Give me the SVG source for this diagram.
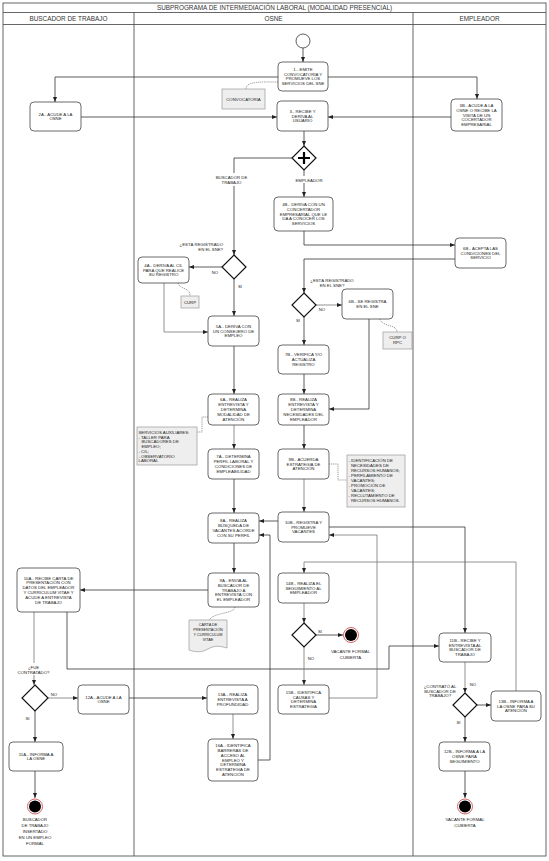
<svg xmlns="http://www.w3.org/2000/svg" width="549" height="861" viewBox="0 0 549 861">
<defs>
<marker id="ar" markerUnits="userSpaceOnUse" markerWidth="5" markerHeight="4" refX="5" refY="2" orient="auto">
<path d="M0,0 L5,2 L0,4 z" fill="#222"/>
</marker>
<style>
text{font-family:"Liberation Sans",Arial,sans-serif;font-size:4.3px;fill:#222;text-anchor:middle}
.hd{font-size:6.4px;fill:#333}
.nd rect{fill:#fff;stroke:#444;stroke-width:0.8}
.doc rect,.doc path{fill:#eeeeee;stroke:#999;stroke-width:0.7}
.gw polygon{fill:#fff;stroke:#111;stroke-width:1.2}
.c path{fill:none;stroke:#333;stroke-width:0.8;marker-end:url(#ar)}
.c path.l{stroke:#777}
.as path{fill:none;stroke:#555;stroke-width:0.6;stroke-dasharray:1.2,0.9}
.lb{fill:#fff}
.lt{text-anchor:start}
.fr{fill:none;stroke:#555;stroke-width:0.9}
</style>
</defs>
<rect width="549" height="861" fill="#fff"/>
<g id="frame">
<rect class="fr" x="3" y="3" width="543" height="853"/>
<line class="fr" x1="3" y1="12.5" x2="546" y2="12.5"/>
<line class="fr" x1="3" y1="24.5" x2="546" y2="24.5"/>
<line class="fr" x1="134" y1="12.5" x2="134" y2="856" stroke="#222"/>
<line class="fr" x1="413" y1="12.5" x2="413" y2="856" stroke="#222"/>
<text class="hd" x="274.5" y="10.2">SUBPROGRAMA DE INTERMEDIACIÓN LABORAL (MODALIDAD PRESENCIAL)</text>
<text class="hd" x="68.5" y="21">BUSCADOR DE TRABAJO</text>
<text class="hd" x="273.5" y="21">OSNE</text>
<text class="hd" x="479.5" y="21">EMPLEADOR</text>
</g>
<g class="c" id="connectors">
<path d="M303,48 V62"/>
<path d="M278,77 H55 V102"/>
<path d="M328,77 H477 V99"/>
<path d="M81,117 H277"/>
<path d="M451,117 H328"/>
<path d="M304,131 V146"/>
<path d="M292,158 H234 V255"/>
<path d="M304,170 V197"/>
<path d="M304,231 V245 H455"/>
<path d="M455,259 H304 V293"/>
<path d="M222,267 H189"/>
<path d="M234,279 V316"/>
<path class="l" d="M164,283 V332 H208"/>
<path class="l" d="M316,305 H342"/>
<path d="M304,317 V345"/>
<path d="M369,319 V409 H329"/>
<path d="M304,374 V394"/>
<path d="M234,346 V394"/>
<path class="l" d="M234,425 V449"/>
<path d="M234,479 V513"/>
<path d="M304,425 V449"/>
<path class="l" d="M304,479 V512"/>
<path d="M278,521 H259"/>
<path d="M329,527 H465 V633"/>
<path d="M234,543 V573"/>
<path d="M208,590 H80"/>
<path class="l" d="M34,612 V685"/>
<path d="M67,612 V669 H389 V646 H439"/>
<path class="l" d="M48,698 H78"/>
<path d="M35,711 V742"/>
<path d="M35,771 V798"/>
<path d="M129,698 H207"/>
<path class="l" d="M233,714 V739"/>
<path d="M258,760 H270 V535 H259"/>
<path class="l" d="M516,691 V562 H304 V573"/>
<path class="l" d="M304,603 V623"/>
<path d="M316,635 H343"/>
<path class="l" d="M304,647 V685"/>
<path class="l" d="M329,698 H377 V535 H329"/>
<path class="l" d="M465,662 V693"/>
<path d="M477,705 H491"/>
<path d="M465,717 V742"/>
<path d="M465,771 V798"/>
</g>
<g class="as" id="associations">
<path d="M278,82 C262,82 246,81 246,89"/>
<path d="M178,283 C180,290 190,287 190,296"/>
<path d="M380,319 C382,327 397,324 397,332"/>
<path d="M208,417 H202 V432 H197"/>
<path d="M329,464 H338 V480 H347"/>
<path d="M235,607 C234,614 215,612 209,620"/>
</g>
<g id="labels">
<rect class="lb" x="215" y="173" width="33" height="13"/>
<text x="231.5" y="178.5">BUSCADOR DE</text>
<text x="231.5" y="183.5">TRABAJO</text>
<rect class="lb" x="291" y="176" width="36" height="7"/>
<text x="309" y="181.5">EMPLEADOR</text>
<text x="223" y="245.8" style="text-anchor:end">¿ESTÁ REGISTRADO</text>
<text x="223" y="250.8" style="text-anchor:end">EN EL SNE?</text>
<text x="215" y="273.5">NO</text>
<text x="240" y="287.5">SI</text>
<text x="332" y="281.5">¿ESTÁ REGISTRADO</text>
<text x="332" y="286.5">EN EL SNE?</text>
<text x="322" y="310.5">NO</text>
<text x="298" y="321.5">SI</text>
<text x="320" y="632.5">SI</text>
<text x="311" y="659.5">NO</text>
<text x="350.5" y="653">VACANTE FORMAL</text>
<text x="350.5" y="659">CUBIERTA</text>
<rect class="lb" x="18" y="663" width="32" height="12"/>
<text x="33.5" y="668.5">¿FUE</text>
<text x="33.5" y="674">CONTRATADO?</text>
<text x="54" y="695.5">NO</text>
<text x="27.5" y="719.5">SI</text>
<text x="440" y="688">¿CONTRATÓ AL</text>
<text x="440" y="692.5">BUSCADOR DE</text>
<text x="440" y="697">TRABAJO?</text>
<text x="473" y="686">NO</text>
<text x="458.5" y="723.5">SI</text>
<text x="35" y="820.8">BUSCADOR</text>
<text x="35" y="826.8">DE TRABAJO</text>
<text x="35" y="832.8">INSERTADO</text>
<text x="35" y="838.8">EN UN EMPLEO</text>
<text x="35" y="844.8">FORMAL</text>
<text x="465" y="820.8">VACANTE FORMAL</text>
<text x="465" y="826.8">CUBIERTA</text>
</g>
<g id="start"><circle cx="303" cy="41" r="7" fill="#fff" stroke="#333" stroke-width="0.8"/></g>
<g id="end1"><circle cx="351" cy="635" r="7.5" fill="#fff" stroke="#d45050" stroke-width="0.9"/><circle cx="351" cy="635" r="6" fill="#000"/></g>
<g id="end2"><circle cx="35" cy="806.5" r="7.5" fill="#fff" stroke="#d45050" stroke-width="0.9"/><circle cx="35" cy="806.5" r="6" fill="#000"/></g>
<g id="end3"><circle cx="465" cy="806.5" r="7.5" fill="#fff" stroke="#d45050" stroke-width="0.9"/><circle cx="465" cy="806.5" r="6" fill="#000"/></g>
<g class="gw" id="g0"><polygon points="304,146 316,158 304,170 292,158"/><path d="M304,152 V164 M298,158 H310" stroke="#000" stroke-width="2.2"/></g>
<g class="gw" id="g1"><polygon points="234,255 246,267 234,279 222,267"/></g>
<g class="gw" id="g2"><polygon points="304,293 316,305 304,317 292,305"/></g>
<g class="gw" id="g3"><polygon points="304,623 316,635 304,647 292,635"/></g>
<g class="gw" id="g4"><polygon points="35,685 48,698 35,711 22,698"/></g>
<g class="gw" id="g5"><polygon points="465,693 477,705 465,717 453,705"/></g>
<g class="doc" id="d-convocatoria"><rect x="222" y="89" width="43" height="20"/><text x="243.5" y="100.5">CONVOCATORIA</text></g>
<g class="doc" id="d-curp"><rect x="181" y="296" width="18" height="12"/><text x="190" y="303.5">CURP</text></g>
<g class="doc" id="d-curprpc"><rect x="383" y="332" width="29" height="17"/><text x="397.5" y="339">CURP O</text><text x="397.5" y="344">RPC</text></g>
<g class="doc" id="d-servicios"><rect x="137" y="427" width="60" height="38"/>
<text class="lt" x="138.5" y="434">SERVICIOS AUXILIARES:</text>
<text class="lt" x="138.5" y="438.7">- TALLER PARA</text>
<text class="lt" x="141.5" y="443.4">BUSCADORES DE</text>
<text class="lt" x="141.5" y="448.1">EMPLEO;</text>
<text class="lt" x="138.5" y="452.8">- CIL;</text>
<text class="lt" x="138.5" y="457.5">- OBSERVATORIO</text>
<text class="lt" x="138.5" y="462.2">LABORAL</text></g>
<g class="doc" id="d-estrategias"><rect x="347" y="455" width="58" height="52"/>
<text class="lt" x="348.5" y="462">- IDENTIFICACIÓN DE</text>
<text class="lt" x="351" y="467">NECESIDADES DE</text>
<text class="lt" x="351" y="472">RECURSOS HUMANOS;</text>
<text class="lt" x="348.5" y="477">- PERFILAMIENTO DE</text>
<text class="lt" x="351" y="482">VACANTES;</text>
<text class="lt" x="348.5" y="487">- PROMOCIÓN DE</text>
<text class="lt" x="351" y="492">VACANTES;</text>
<text class="lt" x="348.5" y="497">- RECLUTAMIENTO DE</text>
<text class="lt" x="351" y="502">RECURSOS HUMANOS.</text></g>
<g class="doc" id="d-carta"><path d="M189,620 H227 V648 C220,646 215,645 208,649 C201,653 195,652 189,650 Z"/>
<text x="208" y="626" style="font-size:3.8px">CARTA DE</text>
<text x="208" y="631" style="font-size:3.8px">PRESENTACIÓN</text>
<text x="208" y="636" style="font-size:3.8px">Y CURRÍCULUM</text>
<text x="208" y="641" style="font-size:3.8px">VITAE</text></g>
<g class="nd" id="n1"><rect x="278" y="62" width="50" height="29" rx="4"/><text x="303" y="70.8">1.- EMITE<tspan x="303" dy="4.8">CONVOCATORIA Y</tspan><tspan x="303" dy="4.8">PROMUEVE LOS</tspan><tspan x="303" dy="4.8">SERVICIOS DEL SNE</tspan></text></g>
<g class="nd" id="n2A"><rect x="30" y="102" width="51" height="29" rx="4"/><text x="55.5" y="115.6">2A.- ACUDE A LA<tspan x="55.5" dy="4.8">OSNE</tspan></text></g>
<g class="nd" id="n3"><rect x="277" y="101" width="51" height="30" rx="4"/><text x="302.5" y="112.7">3.- RECIBE Y<tspan x="302.5" dy="4.8">DERIVA AL</tspan><tspan x="302.5" dy="4.8">USUARIO</tspan></text></g>
<g class="nd" id="n3B"><rect x="451" y="99" width="51" height="32" rx="4"/><text x="476.5" y="106.9">3B.- ACUDE A LA<tspan x="476.5" dy="4.8">OSNE O RECIBE LA</tspan><tspan x="476.5" dy="4.8">VISITA DE UN</tspan><tspan x="476.5" dy="4.8">COCERTADOR</tspan><tspan x="476.5" dy="4.8">EMPRESARIAL</tspan></text></g>
<g class="nd" id="n4B"><rect x="274" y="197" width="59" height="34" rx="4"/><text x="303.5" y="205.9">4B.- DERIVA CON UN<tspan x="303.5" dy="4.8">CONCERTADOR</tspan><tspan x="303.5" dy="4.8">EMPRESARIAL QUE LE</tspan><tspan x="303.5" dy="4.8">DA A CONOCER LOS</tspan><tspan x="303.5" dy="4.8">SERVICIOS</tspan></text></g>
<g class="nd" id="n4A"><rect x="138" y="257" width="51" height="26" rx="4"/><text x="163.5" y="266.7">4A.- DERIVA AL CIL<tspan x="163.5" dy="4.8">PARA QUE REALICE</tspan><tspan x="163.5" dy="4.8">SU REGISTRO</tspan></text></g>
<g class="nd" id="n6B"><rect x="455" y="238" width="51" height="30" rx="4"/><text x="480.5" y="249.7">6B.- ACEPTA LAS<tspan x="480.5" dy="4.8">CONDICIONES DEL</tspan><tspan x="480.5" dy="4.8">SERVICIO</tspan></text></g>
<g class="nd" id="n6Bb"><rect x="342" y="289" width="51" height="30" rx="4"/><text x="367.5" y="303.1">6B.- SE REGISTRA<tspan x="367.5" dy="4.8">EN EL SNE</tspan></text></g>
<g class="nd" id="n5A"><rect x="208" y="316" width="51" height="30" rx="4"/><text x="233.5" y="327.7">5A.- DERIVA CON<tspan x="233.5" dy="4.8">UN CONSEJERO DE</tspan><tspan x="233.5" dy="4.8">EMPLEO</tspan></text></g>
<g class="nd" id="n7B"><rect x="278" y="345" width="51" height="29" rx="4"/><text x="303.5" y="356.2">7B.- VERIFICA Y/O<tspan x="303.5" dy="4.8">ACTUALIZA</tspan><tspan x="303.5" dy="4.8">REGISTRO</tspan></text></g>
<g class="nd" id="n6A"><rect x="208" y="394" width="51" height="31" rx="4"/><text x="233.5" y="401.4">6A.- REALIZA<tspan x="233.5" dy="4.8">ENTREVISTA Y</tspan><tspan x="233.5" dy="4.8">DETERMINA</tspan><tspan x="233.5" dy="4.8">MODALIDAD DE</tspan><tspan x="233.5" dy="4.8">ATENCIÓN</tspan></text></g>
<g class="nd" id="n8B"><rect x="278" y="394" width="51" height="31" rx="4"/><text x="303.5" y="401.4">8B.- REALIZA<tspan x="303.5" dy="4.8">ENTREVISTA Y</tspan><tspan x="303.5" dy="4.8">DETERMINA</tspan><tspan x="303.5" dy="4.8">NECESIDADES DEL</tspan><tspan x="303.5" dy="4.8">EMPLEADOR</tspan></text></g>
<g class="nd" id="n7A"><rect x="208" y="449" width="51" height="30" rx="4"/><text x="233.5" y="458.3">7A.- DETERMINA<tspan x="233.5" dy="4.8">PERFIL LABORAL Y</tspan><tspan x="233.5" dy="4.8">CONDICIONES DE</tspan><tspan x="233.5" dy="4.8">EMPLEABILIDAD</tspan></text></g>
<g class="nd" id="n9B"><rect x="278" y="449" width="51" height="30" rx="4"/><text x="303.5" y="460.7">9B.- ACUERDA<tspan x="303.5" dy="4.8">ESTRATEGIA DE</tspan><tspan x="303.5" dy="4.8">ATENCIÓN</tspan></text></g>
<g class="nd" id="n8A"><rect x="208" y="513" width="51" height="30" rx="4"/><text x="233.5" y="522.3">8A.- REALIZA<tspan x="233.5" dy="4.8">BÚSQUEDA DE</tspan><tspan x="233.5" dy="4.8">VACANTES ACORDE</tspan><tspan x="233.5" dy="4.8">CON SU PERFIL</tspan></text></g>
<g class="nd" id="n10B"><rect x="278" y="512" width="51" height="30" rx="4"/><text x="303.5" y="523.7">10B.- REGISTRA Y<tspan x="303.5" dy="4.8">PROMUEVE</tspan><tspan x="303.5" dy="4.8">VACANTES</tspan></text></g>
<g class="nd" id="n9A"><rect x="208" y="573" width="51" height="34" rx="4"/><text x="233.5" y="581.9">9A.- ENVÍA AL<tspan x="233.5" dy="4.8">BUSCADOR DE</tspan><tspan x="233.5" dy="4.8">TRABAJO A</tspan><tspan x="233.5" dy="4.8">ENTREVISTA CON</tspan><tspan x="233.5" dy="4.8">EL EMPLEADOR</tspan></text></g>
<g class="nd" id="n14B"><rect x="278" y="573" width="51" height="30" rx="4"/><text x="303.5" y="584.7">14B.- REALIZA EL<tspan x="303.5" dy="4.8">SEGUIMIENTO AL</tspan><tspan x="303.5" dy="4.8">EMPLEADOR</tspan></text></g>
<g class="nd" id="n10A"><rect x="17" y="568" width="63" height="44" rx="4"/><text x="48.5" y="579.5">10A.- RECIBE CARTA DE<tspan x="48.5" dy="4.8">PRESENTACIÓN CON</tspan><tspan x="48.5" dy="4.8">DATOS DEL EMPLEADOR</tspan><tspan x="48.5" dy="4.8">Y CURRÍCULUM VITAE Y</tspan><tspan x="48.5" dy="4.8">ACUDE A ENTREVISTA</tspan><tspan x="48.5" dy="4.8">DE TRABAJO</tspan></text></g>
<g class="nd" id="n11B"><rect x="439" y="633" width="52" height="29" rx="4"/><text x="465" y="641.8">11B.- RECIBE Y<tspan x="465" dy="4.8">ENTREVISTA AL</tspan><tspan x="465" dy="4.8">BUSCADOR DE</tspan><tspan x="465" dy="4.8">TRABAJO</tspan></text></g>
<g class="nd" id="n12A"><rect x="78" y="685" width="51" height="29" rx="4"/><text x="103.5" y="698.6">12A.- ACUDE A LA<tspan x="103.5" dy="4.8">OSNE</tspan></text></g>
<g class="nd" id="n13A"><rect x="207" y="685" width="51" height="29" rx="4"/><text x="232.5" y="696.2">13A.- REALIZA<tspan x="232.5" dy="4.8">ENTREVISTA A</tspan><tspan x="232.5" dy="4.8">PROFUNDIDAD</tspan></text></g>
<g class="nd" id="n15B"><rect x="278" y="685" width="51" height="29" rx="4"/><text x="303.5" y="693.8">15B.- IDENTIFICA<tspan x="303.5" dy="4.8">CAUSAS Y</tspan><tspan x="303.5" dy="4.8">DETERMINA</tspan><tspan x="303.5" dy="4.8">ESTRATEGIA</tspan></text></g>
<g class="nd" id="n13B"><rect x="491" y="691" width="50" height="30" rx="4"/><text x="516" y="702.7">13B.- INFORMA A<tspan x="516" dy="4.8">LA OSNE PARA SU</tspan><tspan x="516" dy="4.8">ATENCIÓN</tspan></text></g>
<g class="nd" id="n11A"><rect x="9" y="742" width="54" height="29" rx="4"/><text x="36" y="755.6">11A.- INFORMA A<tspan x="36" dy="4.8">LA OSNE</tspan></text></g>
<g class="nd" id="n12B"><rect x="439" y="742" width="51" height="29" rx="4"/><text x="464.5" y="753.2">12B.- INFORMA A LA<tspan x="464.5" dy="4.8">OSNE PARA</tspan><tspan x="464.5" dy="4.8">SEGUIMIENTO</tspan></text></g>
<g class="nd" id="n16A"><rect x="208" y="739" width="50" height="42" rx="4"/><text x="233" y="747.1">16A.- IDENTIFICA<tspan x="233" dy="4.8">BARRERAS DE</tspan><tspan x="233" dy="4.8">ACCESO AL</tspan><tspan x="233" dy="4.8">EMPLEO Y</tspan><tspan x="233" dy="4.8">DETERMINA</tspan><tspan x="233" dy="4.8">ESTRATEGIA DE</tspan><tspan x="233" dy="4.8">ATENCIÓN</tspan></text></g>
</svg>
